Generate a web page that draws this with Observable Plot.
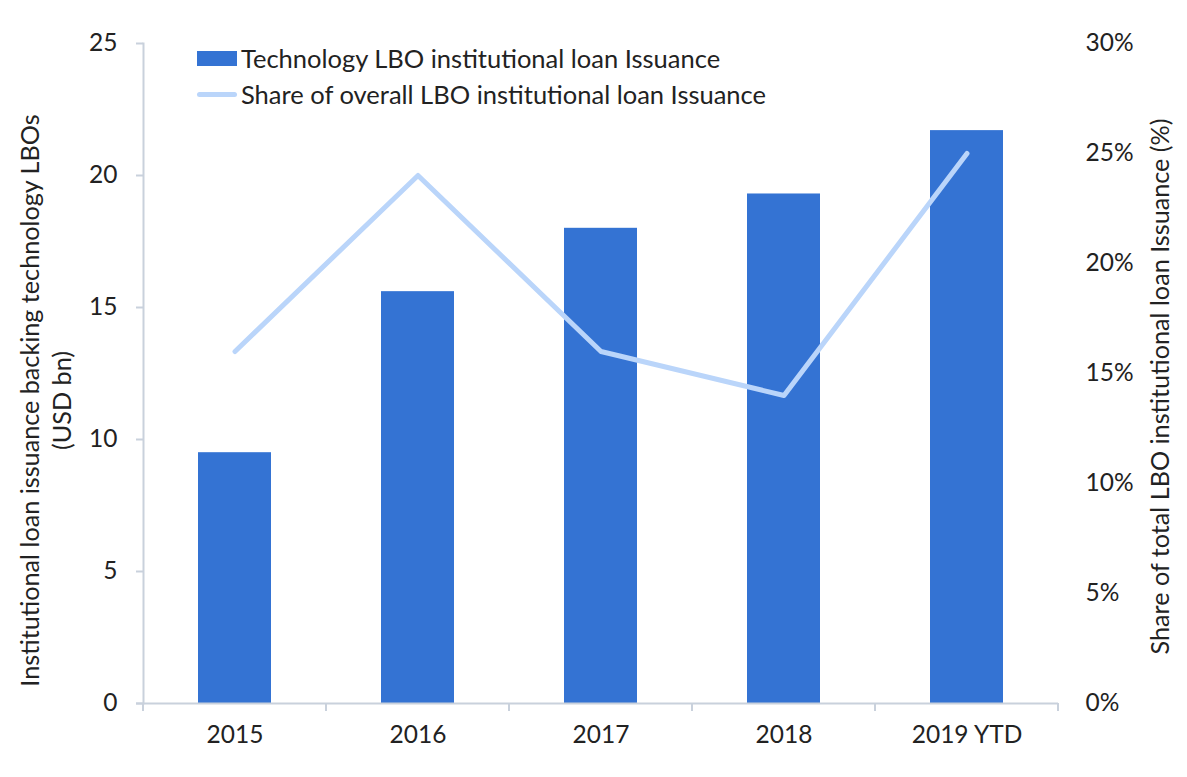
<!DOCTYPE html>
<html><head><meta charset="utf-8">
<script src="https://cdn.jsdelivr.net/npm/d3@7"></script>
<script src="https://cdn.jsdelivr.net/npm/@observablehq/plot@0.6"></script>
<style>
body{margin:0;background:#fff;font-family:Lato,"Noto Sans",sans-serif}
#wrap{position:relative;width:1187px;height:777px}
.leg{position:absolute;display:flex;align-items:center;font-size:25.5px;color:#222;white-space:nowrap;line-height:1}
.sw{display:inline-block;margin-right:4px}
</style></head>
<body><div id="wrap"></div>
<script>
const years = ["2015", "2016", "2017", "2018", "2019 YTD"];
const issuance = [9.5, 15.6, 18.0, 19.3, 21.7];
const share = [16, 24, 16, 14, 25];
const leftTicks = [0, 5, 10, 15, 20, 25];
const rightTicks = [0, 5, 10, 15, 20, 25, 30];
const seriesNames = ["Technology LBO institutional loan Issuance", "Share of overall LBO institutional loan Issuance"];
const leftTitle = ["Institutional loan issuance backing technology LBOs", "(USD bn)"];
const rightTitle = "Share of total LBO institutional loan Issuance (%)";

const data = years.map((y, i) => ({year: y, issuance: issuance[i], share: share[i]}));
const k = 25 / 30;
const axisColor = "#c9d1dc";
const barColor = "#3473d3";
const lineColor = "#bad5fa";
const textColor = "#222";
const fs = 24.5;
const tfs = 25.2;

function boundaryTicks(index, scales, values, dims) {
  const x = scales.x;
  const bw = x.bandwidth ? x.bandwidth() : 0;
  const step = x.step ? x.step() : (scales.scales.x.step);
  const pad = (step - bw) / 2;
  const g = d3.create("svg:g").attr("stroke", axisColor).attr("stroke-width", 2);
  const xs = years.map(y => x(y) - pad);
  xs.push(x(years[years.length - 1]) + bw + pad);
  const y0 = dims.height - dims.marginBottom;
  for (const px of xs) g.append("line").attr("x1", px).attr("x2", px).attr("y1", y0).attr("y2", y0 + 8);
  return g.node();
}

const plot = Plot.plot({
  width: 1187, height: 777,
  marginLeft: 143, marginRight: 129, marginTop: 43, marginBottom: 74,
  style: {fontFamily: "Lato, 'Noto Sans', sans-serif", fontSize: fs + "px", color: textColor, background: "#fff", overflow: "visible"},
  x: {domain: years, paddingInner: 0.6, paddingOuter: 0.3, label: null},
  y: {domain: [0, 25], label: null},
  marks: [
    Plot.barY(data, {x: "year", y: "issuance", fill: barColor}),
    Plot.line(data, {x: "year", y: d => d.share * k, stroke: lineColor, strokeWidth: 5, strokeLinecap: "round", strokeLinejoin: "round"}),
    Plot.frame({anchor: "left", stroke: axisColor, strokeWidth: 2}),
    Plot.ruleY([0], {stroke: axisColor, strokeWidth: 2, insetLeft: -7}),
    boundaryTicks,
    Plot.axisY(leftTicks, {anchor: "left", tickSize: 7, tickPadding: 19, stroke: axisColor, strokeWidth: 2, fill: textColor, fontSize: fs, label: null}),
    Plot.axisY(rightTicks.map(v => v * k), {anchor: "right", tickSize: 0, tickPadding: 27, textAnchor: "start", fill: textColor, fontSize: fs, tickFormat: d => Math.round(d / k) + "%", label: null}),
    Plot.axisX({anchor: "bottom", tickSize: 0, tickPadding: 22, fill: textColor, fontSize: fs, label: null}),
    Plot.text([leftTitle[0]], {frameAnchor: "left", textAnchor: "middle", dx: -113, dy: 27, rotate: -90, text: d => d, fill: textColor, fontSize: tfs}),
    Plot.text([leftTitle[1]], {frameAnchor: "left", textAnchor: "middle", dx: -81, dy: 27, rotate: -90, text: d => d, fill: textColor, fontSize: tfs}),
    Plot.text([rightTitle], {frameAnchor: "right", textAnchor: "middle", dx: 102, dy: 13, rotate: -90, text: d => d, fill: textColor, fontSize: tfs})
  ]
});
const wrap = document.getElementById("wrap");
wrap.appendChild(plot);

const l1 = document.createElement("div");
l1.className = "leg"; l1.style.left = "197px"; l1.style.top = "46px";
l1.innerHTML = `<span class="sw" style="width:40px;height:15px;background:${barColor}"></span>${seriesNames[0]}`;
const l2 = document.createElement("div");
l2.className = "leg"; l2.style.left = "197px"; l2.style.top = "82px";
l2.innerHTML = `<span class="sw" style="width:40px;height:5px;border-radius:3px;background:${lineColor}"></span>${seriesNames[1]}`;
wrap.appendChild(l1); wrap.appendChild(l2);
</script>
</body></html>
